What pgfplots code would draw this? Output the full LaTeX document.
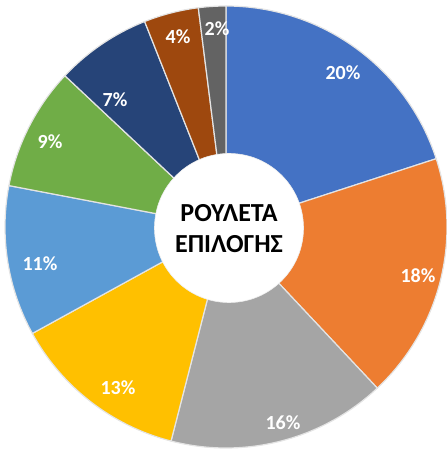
\documentclass[border=0pt]{standalone}
\usepackage{fontspec}
\setmainfont{Carlito}
\usepackage{pgfplots}
\usepackage{pgfplotstable}
\pgfplotsset{compat=1.18}
\definecolor{cA}{HTML}{4472C4}
\definecolor{cB}{HTML}{ED7D31}
\definecolor{cC}{HTML}{A5A5A5}
\definecolor{cD}{HTML}{FFC000}
\definecolor{cE}{HTML}{5B9BD5}
\definecolor{cF}{HTML}{70AD47}
\definecolor{cG}{HTML}{264478}
\definecolor{cH}{HTML}{9E480E}
\definecolor{cI}{HTML}{636363}
\definecolor{sep}{HTML}{E4E4E4}
\pgfplotstableread{
v  c   lx   ly
20 cA  343  380
18 cB  418  177
16 cC  283  30
13 cD  118  65
11 cE  40   189
9  cF  50   311
7  cG  115  353
4  cH  178  416
2  cI  217  424
}\pietable
\begin{document}
\begin{tikzpicture}
\begin{axis}[
  x=1pt, y=1pt,
  xmin=0, xmax=447, ymin=0, ymax=453,
  hide axis, clip=false,
  scale only axis,
]
\def\astart{90}
\pgfplotsforeachungrouped \i in {0,...,8}{%
  \pgfplotstablegetelem{\i}{v}\of\pietable \let\v\pgfplotsretval
  \pgfplotstablegetelem{\i}{c}\of\pietable \let\c\pgfplotsretval
  \pgfplotstablegetelem{\i}{lx}\of\pietable \let\lx\pgfplotsretval
  \pgfplotstablegetelem{\i}{ly}\of\pietable \let\ly\pgfplotsretval
  \pgfmathsetmacro\aend{\astart - 3.6*\v}%
  \edef\temp{\noexpand\fill[fill=\c, draw=sep, line width=1.2pt, line join=round]
     (axis cs:226,226) -- ++(\astart:221pt) arc[start angle=\astart, end angle=\aend, radius=221pt] -- cycle;
     \noexpand\node[text=white, font=\noexpand\fontsize{20}{22}\noexpand\selectfont\noexpand\bfseries] at (axis cs:\lx,\ly) {\v\noexpand\%};}%
  \temp
  \let\astart\aend
}
\fill[white, draw=sep!60, line width=0.6pt] (axis cs:229,225) circle[radius=74.5pt];
\node[align=center, font=\fontsize{26}{31}\selectfont\bfseries] at (axis cs:229,224) {ΡΟΥΛΕΤΑ\\ΕΠΙΛΟΓΗΣ};
\end{axis}
\pgfresetboundingbox
\path (current axis.south west) rectangle (current axis.north east);
\end{tikzpicture}
\end{document}
